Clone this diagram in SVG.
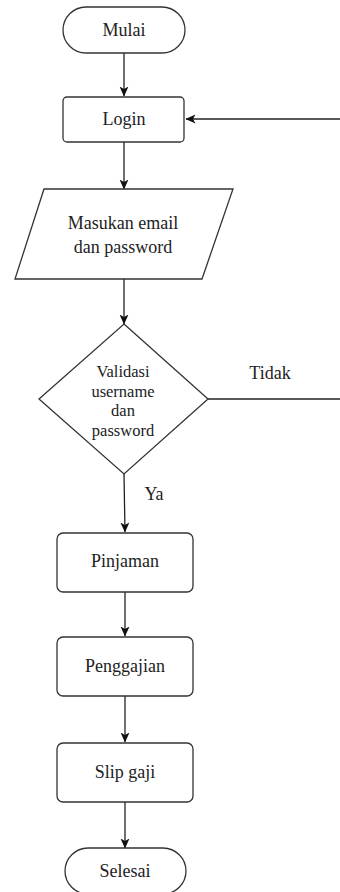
<svg xmlns="http://www.w3.org/2000/svg" width="340" height="892" viewBox="0 0 340 892">
  <style>
    .shape { fill: #ffffff; stroke: #333333; stroke-width: 1.3; }
    .edge { fill: none; stroke: #222222; stroke-width: 1.3; }
    .lbl { font-family: 'Liberation Serif', 'DejaVu Serif', serif; font-size: 18px; fill: #222222; text-anchor: middle; dominant-baseline: central; }
    .small { font-size: 16.5px; }
  </style>
  <defs>
    <marker id="arrow" viewBox="0 0 10 10" refX="9.5" refY="5" markerWidth="10" markerHeight="10" markerUnits="userSpaceOnUse" orient="auto">
      <path d="M0,0.5 L10,5 L0,9.5 L2.5,5 Z" fill="#111111"/>
    </marker>
  </defs>
  <rect width="340" height="892" fill="#ffffff"/>

  <!-- connectors -->
  <g id="connectors">
    <line class="edge" x1="124" y1="53" x2="124" y2="96" marker-end="url(#arrow)"/>
    <line class="edge" x1="340" y1="119" x2="186" y2="119" marker-end="url(#arrow)"/>
    <line class="edge" x1="124" y1="142" x2="124" y2="189" marker-end="url(#arrow)"/>
    <line class="edge" x1="124" y1="279" x2="124" y2="324" marker-end="url(#arrow)"/>
    <line class="edge" x1="208" y1="399" x2="340" y2="399"/>
    <line class="edge" x1="124" y1="474" x2="125" y2="532" marker-end="url(#arrow)"/>
    <line class="edge" x1="125" y1="592" x2="125" y2="636" marker-end="url(#arrow)"/>
    <line class="edge" x1="125" y1="696" x2="125" y2="742" marker-end="url(#arrow)"/>
    <line class="edge" x1="125" y1="802" x2="125" y2="848" marker-end="url(#arrow)"/>
    <text class="lbl" x="270" y="373" font-family="Liberation Serif, serif">Tidak</text>
    <text class="lbl" x="154" y="494">Ya</text>
  </g>

  <g id="mulai">
    <rect class="shape" x="63" y="7" width="122" height="46" rx="23" ry="23"/>
    <text class="lbl" x="124" y="30">Mulai</text>
  </g>

  <g id="login">
    <rect class="shape" x="63" y="97" width="121" height="45" rx="4" ry="4"/>
    <text class="lbl" x="124" y="119">Login</text>
  </g>

  <g id="input">
    <polygon class="shape" points="44,189 233,189 202,279 15,279"/>
    <text class="lbl" x="123" y="223">Masukan email</text>
    <text class="lbl" x="123" y="247">dan password</text>
  </g>

  <g id="validasi">
    <polygon class="shape" points="124,324 208,399 124,474 39,399"/>
    <text class="lbl small" x="123" y="371">Validasi</text>
    <text class="lbl small" x="123" y="391">username</text>
    <text class="lbl small" x="123" y="410">dan</text>
    <text class="lbl small" x="123" y="430">password</text>
  </g>

  <g id="pinjaman">
    <rect class="shape" x="57" y="533" width="136" height="59" rx="6" ry="6"/>
    <text class="lbl" x="125" y="561">Pinjaman</text>
  </g>

  <g id="penggajian">
    <rect class="shape" x="57" y="637" width="136" height="59" rx="6" ry="6"/>
    <text class="lbl" x="125" y="666">Penggajian</text>
  </g>

  <g id="slip-gaji">
    <rect class="shape" x="57" y="743" width="136" height="59" rx="6" ry="6"/>
    <text class="lbl" x="125" y="772">Slip gaji</text>
  </g>

  <g id="selesai">
    <rect class="shape" x="65" y="848" width="121" height="46" rx="23" ry="23"/>
    <text class="lbl" x="125" y="871">Selesai</text>
  </g>
</svg>
